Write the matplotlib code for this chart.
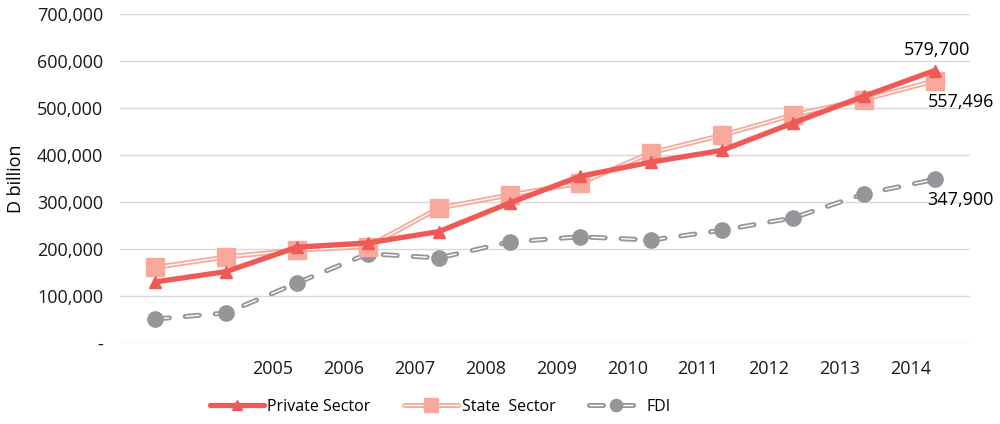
import numpy as np
import matplotlib.pyplot as plt
from matplotlib.ticker import FuncFormatter

plt.rcParams['font.family'] = ['Open Sans', 'DejaVu Sans']

# data (D billion)
years = ['', '', '2005', '2006', '2007', '2008', '2009', '2010', '2011', '2012', '2013', '2014']
private = [130000, 152000, 204000, 213000, 237000, 298000, 355000, 385000, 410000, 468000, 525000, 579700]
state = [161000, 183000, 198000, 205000, 287000, 315000, 340000, 405000, 442000, 485000, 518000, 557496]
fdi = [51000, 64000, 128000, 190000, 181000, 215000, 226000, 219000, 240000, 266000, 317000, 347900]

c_private = '#F05A56'
c_state = '#F8A99B'
c_fdi = '#96969A'

x = np.arange(len(years))

fig = plt.figure(figsize=(10, 4.24), dpi=100)
ax = fig.add_axes([0.12, 0.191, 0.85, 0.776])

# private sector: thick solid line
p1, = ax.plot(x, private, color=c_private, lw=3.8, marker='^', ms=9,
              solid_capstyle='round', zorder=4)

# state sector: double line (thick salmon + thin white core) + squares
s1, = ax.plot(x, state, color=c_state, lw=3.6, zorder=3, solid_capstyle='round')
s2, = ax.plot(x, state, color='white', lw=1.0, zorder=3)
s3, = ax.plot(x, state, ls='none', marker='s', ms=13, color=c_state, zorder=3)

# FDI: dashed double line + circles
f1, = ax.plot(x, fdi, color=c_fdi, lw=3.6, dashes=(2.8, 3.2), dash_capstyle='round', zorder=2)
f2, = ax.plot(x, fdi, color='white', lw=1.0, dashes=(10.1, 11.5), zorder=2)
f3, = ax.plot(x, fdi, ls='none', marker='o', ms=11, color=c_fdi, zorder=2)

ax.set_xlim(-0.5, len(years) - 0.5)
ax.set_ylim(0, 700000)
ax.set_yticks(np.arange(0, 700001, 100000))
ax.yaxis.set_major_formatter(FuncFormatter(lambda v, p: '-' if v == 0 else f'{int(v):,}'))
ax.grid(axis='y', color='#D9D9D9', lw=1)
ax.set_axisbelow(True)
for s in ax.spines.values():
    s.set_visible(False)
ax.tick_params(axis='both', length=0, labelsize=13, colors='#1a1a1a')
ax.tick_params(axis='y', pad=12)

ax.set_xticks(x[2:] - 0.34)
ax.set_xticklabels(years[2:])
ax.tick_params(axis='x', pad=12)

ax.set_ylabel('D billion', fontsize=13)
ax.yaxis.set_label_coords(-0.112, 0.5)

ax.annotate(f'{private[-1]:,}', (x[-1], private[-1]), xytext=(2, 8),
            textcoords='offset points', ha='center', va='bottom', fontsize=13)
ax.annotate(f'{state[-1]:,}', (x[-1], state[-1]), xytext=(-5, -9),
            textcoords='offset points', ha='left', va='top', fontsize=13)
ax.annotate(f'{fdi[-1]:,}', (x[-1], fdi[-1]), xytext=(-5, -8),
            textcoords='offset points', ha='left', va='top', fontsize=13)

fig.legend([p1, (s1, s2, s3), (f1, f2, f3)], ['Private Sector', 'State  Sector', 'FDI'],
           loc='lower center', bbox_to_anchor=(0.44, -0.012), ncol=3, frameon=False,
           fontsize=11.5, handlelength=3.4, columnspacing=2.1, handletextpad=0.2,
           markerscale=0.8)

fig.savefig('out.png', dpi=100)
